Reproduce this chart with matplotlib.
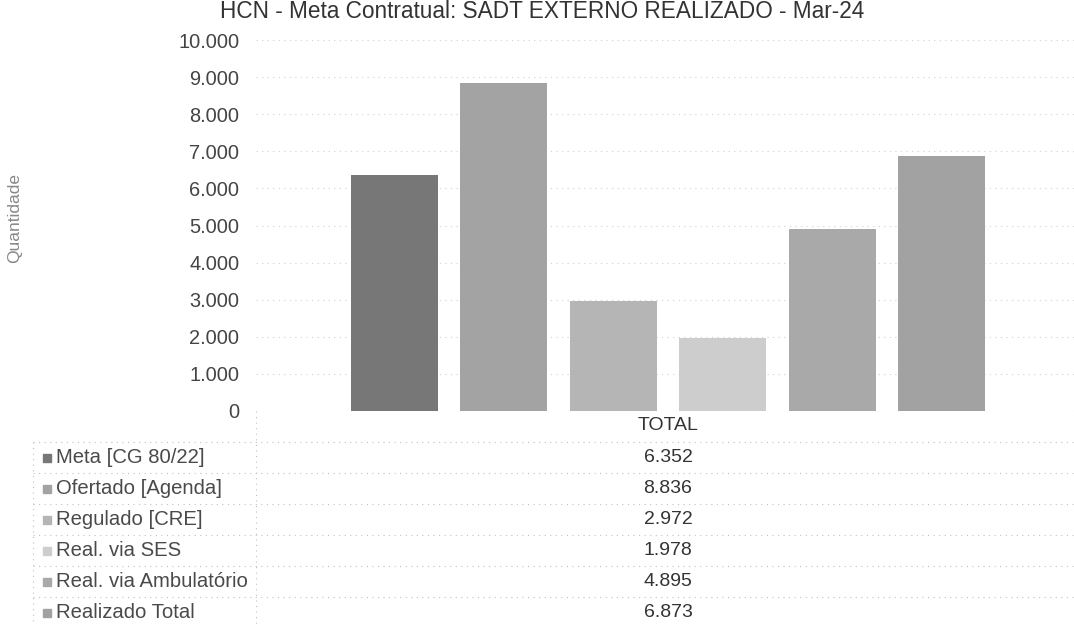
import matplotlib.pyplot as plt
from matplotlib.lines import Line2D

plt.rcParams['font.family'] = ['Liberation Sans', 'DejaVu Sans']

# Data
title = "HCN - Meta Contratual: SADT EXTERNO REALIZADO - Mar-24"
category = "TOTAL"
series = ["Meta [CG 80/22]", "Ofertado [Agenda]", "Regulado [CRE]",
          "Real. via SES", "Real. via Ambulatório", "Realizado Total"]
values = [6352, 8836, 2972, 1978, 4895, 6873]
colors = ["#777777", "#a3a3a3", "#b5b5b5", "#cdcdcd", "#a9a9a9", "#a2a2a2"]
yticks = list(range(0, 10001, 1000))

W, H = 1074, 625
fig = plt.figure(figsize=(W / 100, H / 100), dpi=100)

def fx(px):
    return px / W

def fy(py):
    return 1 - py / H

# plot area
ax_left, ax_right, ax_top, ax_bottom = 256, 1074, 40, 411
ax = fig.add_axes([fx(ax_left), fy(ax_bottom), fx(ax_right - ax_left), (ax_bottom - ax_top) / H])

n = len(values)
offsets = [i - (n - 1) / 2 for i in range(n)]
ax.bar(offsets, values, width=0.79, color=colors, zorder=2)

center_px = 668
spacing_px = 109.5
ax.set_xlim(-(center_px - ax_left) / spacing_px, (ax_right - center_px) / spacing_px)
ax.set_ylim(0, 10000)
ax.set_yticks(yticks)
ax.set_yticklabels([f"{v:,}".replace(",", ".") for v in yticks], fontsize=14.4, color="#444444")
ax.tick_params(axis='y', length=0, pad=12)
ax.set_xticks([])
for s in ax.spines.values():
    s.set_visible(False)
ax.grid(axis='y', color="#d0d0d0", linestyle=(0, (1, 4)), linewidth=0.8, zorder=0)

# title and axis label
fig.text(fx(542), fy(12), title, ha='center', va='center', fontsize=16.3, color="#333333")
fig.text(fx(15), fy(218), "Quantidade", rotation=90, ha='center', va='center',
         fontsize=12.5, color="#888888")

# data table
row_h = 31
row_lines = [ax_bottom + 31] + [ax_bottom + 31 + row_h * (i + 1) for i in range(len(series))]
dot = dict(color="#c0c0c0", linestyle=(0, (1, 4)), linewidth=0.8)
for y in row_lines[:-1]:
    fig.add_artist(Line2D([fx(33), fx(W)], [fy(y), fy(y)], **dot))
fig.add_artist(Line2D([fx(33), fx(33)], [fy(row_lines[0]), fy(H)], **dot))
fig.add_artist(Line2D([fx(ax_left), fx(ax_left)], [fy(ax_bottom), fy(H)], **dot))

fig.text(fx(center_px), fy(ax_bottom + 15), category, ha='center', va='center',
         fontsize=14, color="#333333")
for i, (name, v, c) in enumerate(zip(series, values, colors)):
    yc = row_lines[i] + row_h / 2
    fig.add_artist(plt.Rectangle((fx(43), fy(yc + 4)), fx(8), 8 / H, color=c))
    fig.text(fx(56), fy(yc), name, ha='left', va='center', fontsize=14.6, color="#4a4a4a")
    fig.text(fx(center_px), fy(yc), f"{v:,}".replace(",", "."), ha='center', va='center',
             fontsize=14, color="#333333")

fig.savefig("out.png", dpi=100)
